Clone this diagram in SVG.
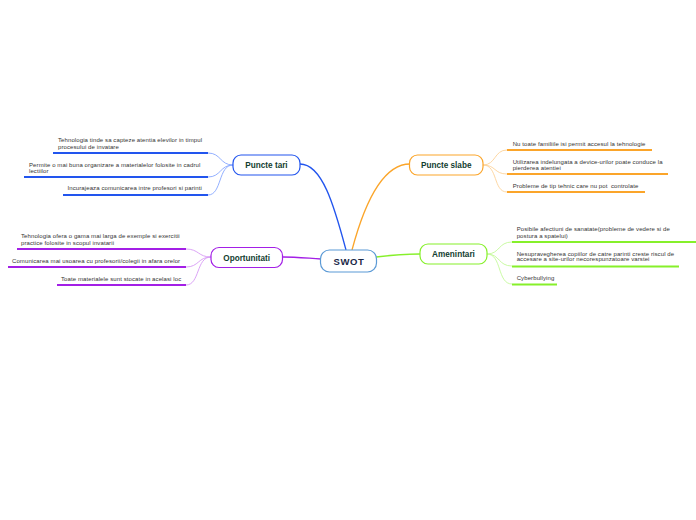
<svg xmlns="http://www.w3.org/2000/svg" width="696" height="520" viewBox="0 0 696 520">
<style>
.bg{fill:#ffffff}
.node{fill:#ffffff;stroke-width:1.2}
.lbl{font-family:"Liberation Sans",Arial,sans-serif;font-weight:bold;font-size:8.2px;fill:#123d2f;text-anchor:middle}
.root{font-family:"Liberation Sans",Arial,sans-serif;font-weight:bold;font-size:9.5px;fill:#1a2847;text-anchor:middle;letter-spacing:0.6px}
.leaf{font-family:"Liberation Sans",Arial,sans-serif;font-size:6px;letter-spacing:0.1px;fill:#333333;white-space:pre}
.c{fill:none;stroke-width:1.3}
.lc{fill:none;stroke-width:0.9}
.ul{fill:none;stroke-width:2}
.blue{stroke:#2255ee}
.blueL{stroke:#86a6ff}
.orange{stroke:#fba52a}
.orangeL{stroke:#fdd399}
.purple{stroke:#a31fe6}
.purpleL{stroke:#d79af5}
.green{stroke:#86f02a}
.greenL{stroke:#c4f99a}
</style>
<rect class="bg" x="0" y="0" width="696" height="520"/>
<g id="connectors">
<path class="c blue" d="M300,164 C322,164 334,205 346,250"/>
<path class="c orange" d="M352,250 C364,205 382,164 410,164"/>
<path class="c purple" d="M321,259 C305,258 295,257 283,257"/>
<path class="c green" d="M376,257 C392,255 405,254 420,254"/>
<path class="lc blueL" d="M233,165 C220,165 221,153 208,153"/>
<path class="lc blueL" d="M233,165 C220,165 221,177 208,177"/>
<path class="lc blueL" d="M233,165 C218,165 222,195 208,195"/>
<path class="lc purpleL" d="M211,257 C198,257 199,249 186,249"/>
<path class="lc purpleL" d="M211,257 C198,257 199,267 186,267"/>
<path class="lc purpleL" d="M211,257 C196,257 200,285 186,285"/>
<path class="lc orangeL" d="M483,165 C496,165 494,150 507,150"/>
<path class="lc orangeL" d="M483,165 C496,165 494,174 507,174"/>
<path class="lc orangeL" d="M483,165 C498,165 493,192 507,192"/>
<path class="lc greenL" d="M487,254 C500,254 498,242 512,242"/>
<path class="lc greenL" d="M487,254 C500,254 498,266 512,266"/>
<path class="lc greenL" d="M487,254 C502,254 497,284 512,284"/>
</g>
<g id="swot">
<rect class="node" x="320.5" y="250" width="56" height="22" rx="9" stroke="#5b9ad6"/>
<text class="root" x="349" y="264.5">SWOT</text>
</g>
<g id="puncte-tari">
<rect class="node" x="233" y="155" width="67" height="20" rx="8" stroke="#2255ee"/>
<text class="lbl" x="266.5" y="168">Puncte tari</text>
</g>
<g id="puncte-slabe">
<rect class="node" x="409.5" y="155" width="73.5" height="20" rx="8" stroke="#fba52a"/>
<text class="lbl" x="446.2" y="168">Puncte slabe</text>
</g>
<g id="oportunitati">
<rect class="node" x="211" y="247.5" width="71.5" height="20" rx="8" stroke="#a31fe6"/>
<text class="lbl" x="246.7" y="260.5">Oportunitati</text>
</g>
<g id="amenintari">
<rect class="node" x="420" y="244" width="67" height="20" rx="8" stroke="#86f02a"/>
<text class="lbl" x="453.5" y="257">Amenintari</text>
</g>
<g id="tari-leaf-1">
<text class="leaf" x="58" y="142">Tehnologia tinde sa capteze atentia elevilor in timpul</text>
<text class="leaf" x="58" y="148.8">procesului de invatare</text>
<path class="ul blue" d="M53,153 H208"/>
</g>
<g id="tari-leaf-2">
<text class="leaf" x="29" y="167">Permite o mai buna organizare a materialelor folosite in cadrul</text>
<text class="leaf" x="29" y="173">lectiilor</text>
<path class="ul blue" d="M24,177 H208"/>
</g>
<g id="tari-leaf-3">
<text class="leaf" x="67.5" y="190.3">Incurajeaza comunicarea intre profesori si parinti</text>
<path class="ul blue" d="M63,195 H208"/>
</g>
<g id="op-leaf-1">
<text class="leaf" x="21" y="237.7">Tehnologia ofera o gama mai larga de exemple si exercitii</text>
<text class="leaf" x="21" y="244.6">practice folosite in scopul invatarii</text>
<path class="ul purple" d="M17,249 H186"/>
</g>
<g id="op-leaf-2">
<text class="leaf" x="12" y="262.7">Comunicarea mai usoarea cu profesorii/colegii in afara orelor</text>
<path class="ul purple" d="M8,267 H186"/>
</g>
<g id="op-leaf-3">
<text class="leaf" x="61" y="281">Toate materialele sunt stocate in acelasi loc</text>
<path class="ul purple" d="M57,285 H186"/>
</g>
<g id="slabe-leaf-1">
<text class="leaf" x="512.7" y="146">Nu toate familiile isi permit accesul la tehnologie</text>
<path class="ul orange" d="M507,150 H652"/>
</g>
<g id="slabe-leaf-2">
<text class="leaf" x="512.7" y="164.2">Utilizarea indelungata a device-urilor poate conduce la</text>
<text class="leaf" x="512.7" y="169.8">pierderea atentiei</text>
<path class="ul orange" d="M507,174 H668"/>
</g>
<g id="slabe-leaf-3">
<text class="leaf" x="512.7" y="188">Probleme de tip tehnic care nu pot  controlate</text>
<path class="ul orange" d="M507,192 H645"/>
</g>
<g id="am-leaf-1">
<text class="leaf" x="516.7" y="231.3">Posibile afectiuni de sanatate(probleme de vedere si de</text>
<text class="leaf" x="516.7" y="237.7">postura a spatelui)</text>
<path class="ul green" d="M512,242 H696"/>
</g>
<g id="am-leaf-2">
<text class="leaf" x="516.7" y="255.7">Nesupravegherea copiilor de catre parinti creste riscul de</text>
<text class="leaf" x="516.7" y="261.3">accesare a site-urilor necorespunzatoare varstei</text>
<path class="ul green" d="M512,266.5 H679"/>
</g>
<g id="am-leaf-3">
<text class="leaf" x="516.7" y="280.3">Cyberbullying</text>
<path class="ul green" d="M512,284.5 H557"/>
</g>
</svg>
